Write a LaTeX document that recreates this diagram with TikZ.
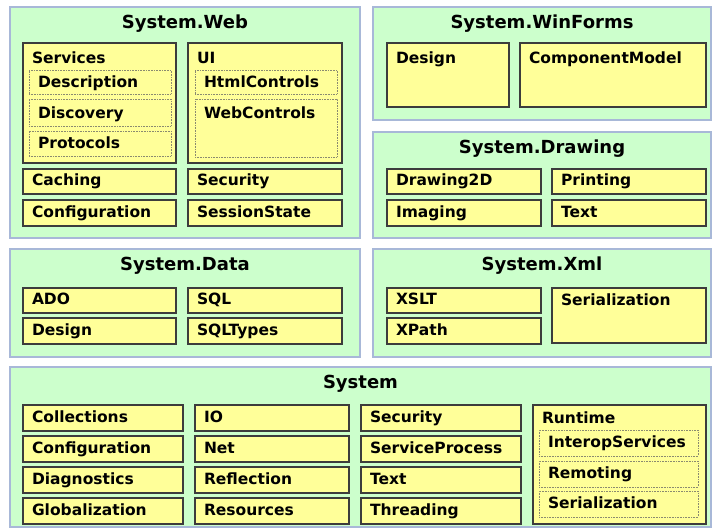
\documentclass[tikz,border=0pt]{standalone}
\usepackage{fontspec}
\setmainfont{DejaVu Sans}

\definecolor{pkgfill}{HTML}{CCFFCC}
\definecolor{pkgline}{HTML}{A8B8D8}
\definecolor{nsfill}{HTML}{FFFF99}
\definecolor{nsline}{HTML}{3C3C3C}
\definecolor{subline}{HTML}{8A8A70}

\newcommand{\pkgfont}{\bfseries\fontsize{18}{20}\selectfont}
\newcommand{\nsfont}{\bfseries\fontsize{15.5}{18}\selectfont}

\tikzset{
	pkg/.style={draw=pkgline, fill=pkgfill, line width=1.1pt, anchor=north west, inner xsep=0pt, inner ysep=0pt, outer sep=0pt, align=center, font=\pkgfont, text height=22pt},
	ns/.style={draw=nsline, fill=nsfill, line width=1.2pt, anchor=north west, inner xsep=9pt, inner ysep=0pt, outer sep=0pt, align=left, font=\nsfont},
	subns/.style={ns, draw=subline, line width=0.6pt, densely dotted},
}

\begin{document}
\begin{tikzpicture}[x=1pt,y=1pt,yscale=-1,xscale=1]
		% Set the frame of the picture
		\fill[white] (0,0) rectangle (713,529);
		\useasboundingbox (0,0) rectangle (713,529);

		% The green package boxes
		\node[pkg, text width=350pt, text depth=209pt] (web) at (10,7) {System.Web};
		\node[pkg, text width=338pt, text depth=91pt] (winforms) at (373,7) {System.WinForms};
		\node[pkg, text width=338pt, text depth=84pt] (drawing) at (373,132) {System.Drawing};
		\node[pkg, text width=350pt, text depth=86pt] (data) at (10,249) {System.Data};
		\node[pkg, text width=338pt, text depth=86pt] (xml) at (373,249) {System.Xml};
		\node[pkg, text width=701pt, text depth=138pt] (sys) at (10,367) {System};

		% System.Web: Services and UI with their parts
		\node[ns, text width=135pt, text height=20.5pt, text depth=99.5pt] (web-svc) at (23,43) {Services};
		\node[subns, text width=124pt, text height=17.5pt, text depth=6.5pt] (web-desc) at (29,70) {Description};
		\node[subns, text width=124pt, text height=19.5pt, text depth=7.5pt] (web-disc) at (29,99) {Discovery};
		\node[subns, text width=124pt, text height=17.5pt, text depth=7.5pt] (web-proto) at (29,131) {Protocols};
		\node[ns, text width=136pt, text height=20.5pt, text depth=99.5pt] (web-ui) at (188,43) {UI};
		\node[subns, text width=124pt, text height=17.5pt, text depth=6.5pt] (web-html) at (195,70) {HtmlControls};
		\node[subns, text width=124pt, text height=19.5pt, text depth=38.5pt] (web-ctl) at (195,99) {WebControls};

		% System.Web: the single rows
		\node[ns, text width=135pt, text height=17pt, text depth=8pt] (web-cache) at (23,169) {Caching};
		\node[ns, text width=136pt, text height=17pt, text depth=8pt] (web-sec) at (188,169) {Security};
		\node[ns, text width=135pt, text height=17.5pt, text depth=8.5pt] (web-cfg) at (23,200) {Configuration};
		\node[ns, text width=136pt, text height=17.5pt, text depth=8.5pt] (web-state) at (188,200) {SessionState};

		% System.WinForms
		\node[ns, text width=104pt, text height=20.5pt, text depth=43.5pt] (wf-design) at (387,43) {Design};
		\node[ns, text width=168pt, text height=20.5pt, text depth=43.5pt] (wf-model) at (520,43) {ComponentModel};

		% System.Drawing
		\node[ns, text width=136pt, text height=17pt, text depth=8pt] (dr-2d) at (387,169) {Drawing2D};
		\node[ns, text width=136pt, text height=17pt, text depth=8pt] (dr-print) at (552,169) {Printing};
		\node[ns, text width=136pt, text height=17.5pt, text depth=8.5pt] (dr-img) at (387,200) {Imaging};
		\node[ns, text width=136pt, text height=17.5pt, text depth=8.5pt] (dr-text) at (552,200) {Text};

		% System.Data
		\node[ns, text width=135pt, text height=17pt, text depth=8pt] (da-ado) at (23,288) {ADO};
		\node[ns, text width=135pt, text height=17.5pt, text depth=8.5pt] (da-design) at (23,318) {Design};
		\node[ns, text width=136pt, text height=17pt, text depth=8pt] (da-sql) at (188,288) {SQL};
		\node[ns, text width=136pt, text height=17.5pt, text depth=8.5pt] (da-types) at (188,318) {SQLTypes};

		% System.Xml
		\node[ns, text width=136pt, text height=17pt, text depth=8pt] (xml-xslt) at (387,288) {XSLT};
		\node[ns, text width=136pt, text height=17.5pt, text depth=8.5pt] (xml-xpath) at (387,318) {XPath};
		\node[ns, text width=136pt, text height=17.5pt, text depth=37.5pt] (xml-ser) at (552,288) {Serialization};

		% System: first column
		\node[ns, text width=142pt, text height=17.5pt, text depth=8.5pt] (sys-coll) at (23,405) {Collections};
		\node[ns, text width=142pt, text height=17.5pt, text depth=8.5pt] (sys-cfg) at (23,436) {Configuration};
		\node[ns, text width=142pt, text height=17.5pt, text depth=8.5pt] (sys-diag) at (23,467) {Diagnostics};
		\node[ns, text width=142pt, text height=17.5pt, text depth=8.5pt] (sys-glob) at (23,498) {Globalization};

		% System: second column
		\node[ns, text width=136pt, text height=17.5pt, text depth=8.5pt] (sys-io) at (195,405) {IO};
		\node[ns, text width=136pt, text height=17.5pt, text depth=8.5pt] (sys-net) at (195,436) {Net};
		\node[ns, text width=136pt, text height=17.5pt, text depth=8.5pt] (sys-refl) at (195,467) {Reflection};
		\node[ns, text width=136pt, text height=17.5pt, text depth=8.5pt] (sys-res) at (195,498) {Resources};

		% System: third column
		\node[ns, text width=142pt, text height=17.5pt, text depth=8.5pt] (sys-sec) at (361,405) {Security};
		\node[ns, text width=142pt, text height=17.5pt, text depth=8.5pt] (sys-proc) at (361,436) {ServiceProcess};
		\node[ns, text width=142pt, text height=17.5pt, text depth=8.5pt] (sys-text) at (361,467) {Text};
		\node[ns, text width=142pt, text height=17.5pt, text depth=8.5pt] (sys-thread) at (361,498) {Threading};

		% System: Runtime with its parts
		\node[ns, text width=155pt, text height=18.5pt, text depth=100.5pt] (sys-rt) at (533,405) {Runtime};
		\node[subns, text width=141pt, text height=17.5pt, text depth=8.5pt] (sys-interop) at (539,430) {InteropServices};
		\node[subns, text width=141pt, text height=17.5pt, text depth=8.5pt] (sys-remote) at (539,461) {Remoting};
		\node[subns, text width=141pt, text height=17.5pt, text depth=8.5pt] (sys-ser) at (539,491) {Serialization};
	\end{tikzpicture}
\end{document}
